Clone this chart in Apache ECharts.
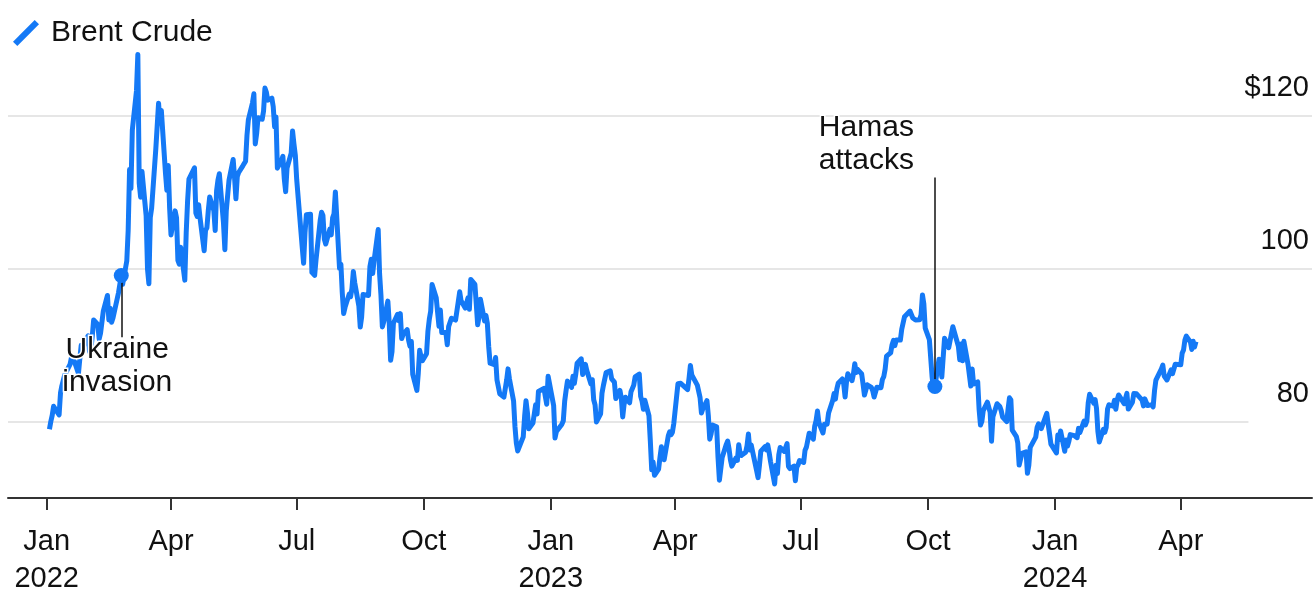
<!DOCTYPE html>
<html>
<head>
<meta charset="utf-8">
<title>Brent Crude</title>
<script src="https://cdn.jsdelivr.net/npm/echarts@6/dist/echarts.min.js"></script>
<style>
  html, body { margin: 0; padding: 0; background: #fff; }
  #chart { width: 1314px; height: 590px; }
</style>
</head>
<body>
<div id="chart"></div>
<script>
// Brent crude, daily close, $/bbl  [MM-DD, price]
const brent2022 = [
  ['01-03',78.98],['01-04',80.00],['01-05',80.80],['01-06',81.99],['01-07',81.75],['01-10',80.87],['01-11',83.72],
  ['01-12',84.67],['01-13',84.47],['01-14',86.06],['01-18',87.51],['01-19',88.44],['01-20',88.38],['01-21',87.89],
  ['01-24',86.27],['01-25',88.20],['01-26',89.96],['01-27',89.34],['01-28',90.03],['01-31',91.21],['02-01',89.16],
  ['02-02',89.47],['02-03',91.11],['02-04',93.27],['02-07',92.69],['02-08',90.78],['02-09',91.55],['02-10',91.41],
  ['02-11',94.44],['02-14',96.48],['02-15',93.28],['02-16',94.81],['02-17',92.97],['02-18',93.54],['02-22',96.84],
  ['02-23',96.84],['02-24',99.08],['02-25',97.93],['02-28',100.99],['03-01',104.97],['03-02',112.93],['03-03',110.46],
  ['03-04',118.11],['03-07',123.21],['03-08',127.98],['03-09',111.14],['03-10',109.33],['03-11',112.67],['03-14',106.90],
  ['03-15',99.91],['03-16',98.02],['03-17',106.64],['03-18',107.93],['03-21',115.62],['03-22',115.48],['03-23',121.60],
  ['03-24',119.03],['03-25',120.65],['03-28',112.48],['03-29',110.23],['03-30',113.45],['03-31',107.91],['04-01',104.39],
  ['04-04',107.53],['04-05',106.64],['04-06',101.07],['04-07',100.58],['04-08',102.78],['04-11',98.48],['04-12',104.64],
  ['04-13',108.78],['04-14',111.70],['04-18',113.16],['04-19',107.25],['04-20',106.80],['04-21',108.33],['04-22',106.65],
  ['04-25',102.32],['04-26',104.99],['04-27',105.32],['04-28',107.59],['04-29',109.34],['05-02',107.58],['05-03',104.97],
  ['05-04',110.14],['05-05',111.55],['05-06',112.39],['05-09',105.94],['05-10',102.46],['05-11',107.51],['05-12',107.45],
  ['05-13',111.55],['05-16',114.24],['05-17',111.93],['05-18',109.11],['05-19',112.04],['05-20',112.55],['05-23',113.42],
  ['05-24',113.56],['05-25',114.03],['05-26',117.40],['05-27',119.43],['05-30',121.67],['05-31',122.84],['06-01',116.29],
  ['06-02',117.61],['06-03',119.72],['06-06',119.51],['06-07',120.57],['06-08',123.58],['06-09',123.07],['06-10',122.01],
  ['06-13',122.27],['06-14',121.17],['06-15',118.51],['06-16',119.81],['06-17',113.12],['06-20',114.13],['06-21',114.65],
  ['06-22',111.74],['06-23',110.05],['06-24',113.12],['06-27',115.09],['06-28',117.98],['06-29',116.26],['06-30',114.81],
  ['07-01',111.63],['07-05',102.77],['07-06',100.69],['07-07',104.65],['07-08',107.02],['07-11',107.10],['07-12',99.49],
  ['07-13',99.57],['07-14',99.10],['07-15',101.16],['07-18',106.27],['07-19',107.35],['07-20',106.92],['07-21',103.86],
  ['07-22',103.20],['07-25',105.15],['07-26',104.40],['07-27',106.62],['07-28',107.14],['07-29',110.01],['08-01',100.03],
  ['08-02',100.54],['08-03',96.78],['08-04',94.12],['08-05',94.92],['08-08',96.65],['08-09',96.31],['08-10',97.40],
  ['08-11',99.60],['08-12',98.15],['08-15',95.10],['08-16',92.34],['08-17',93.65],['08-18',96.59],['08-19',96.72],
  ['08-22',96.48],['08-23',100.22],['08-24',101.22],['08-25',99.34],['08-26',100.99],['08-29',105.09],['08-30',99.31],
  ['08-31',96.49],['09-01',92.36],['09-02',93.02],['09-05',95.74],['09-06',92.83],['09-07',88.00],['09-08',89.15],
  ['09-09',92.84],['09-12',94.00],['09-13',93.17],['09-14',94.10],['09-15',90.84],['09-16',91.35],['09-19',92.00],
  ['09-20',90.62],['09-21',89.83],['09-22',90.46],['09-23',86.15],['09-26',84.06],['09-27',86.27],['09-28',89.32],
  ['09-29',88.49],['09-30',87.96],['10-03',88.86],['10-04',91.80],['10-05',93.37],['10-06',94.42],['10-07',97.92],
  ['10-10',96.19],['10-11',94.29],['10-12',92.45],['10-13',94.57],['10-14',91.63],['10-17',91.62],['10-18',90.03],
  ['10-19',92.41],['10-20',92.38],['10-21',93.50],['10-24',93.26],['10-25',93.52],['10-26',95.69],['10-27',96.96],
  ['10-28',95.77],['10-31',94.83],['11-01',94.65],['11-02',96.16],['11-03',94.67],['11-04',98.57],['11-07',97.92],
  ['11-08',95.36],['11-09',92.65],['11-10',93.67],['11-11',95.99],['11-14',93.14],['11-15',93.86],['11-16',92.86],
  ['11-17',89.78],['11-18',87.62],['11-21',87.45],['11-22',88.36],['11-23',85.41],['11-24',85.34],['11-25',83.63],
  ['11-28',83.19],['11-29',83.03],['11-30',85.43],['12-01',86.88],['12-02',85.57],['12-05',82.68],['12-06',79.35],
  ['12-07',77.17],['12-08',76.15],['12-09',76.10],['12-12',77.99],['12-13',80.68],['12-14',82.70],['12-15',81.21],
  ['12-16',79.04],['12-19',79.80],['12-20',79.99],['12-21',82.20],['12-22',80.98],['12-23',83.92],['12-27',84.33],
  ['12-28',83.26],['12-29',82.26],['12-30',85.91]
];
const brent2023 = [
  ['01-03',82.10],['01-04',77.84],['01-05',78.69],['01-06',78.57],['01-09',79.65],['01-10',80.10],['01-11',82.67],
  ['01-12',84.03],['01-13',85.28],['01-16',84.46],['01-17',85.92],['01-18',84.98],['01-19',86.16],['01-20',87.63],
  ['01-23',88.19],['01-24',86.13],['01-25',86.12],['01-26',87.47],['01-27',86.66],['01-30',84.90],['01-31',85.46],
  ['02-01',82.84],['02-02',82.17],['02-03',79.94],['02-06',80.99],['02-07',83.69],['02-08',84.69],['02-09',84.50],
  ['02-10',86.39],['02-13',86.61],['02-14',85.58],['02-15',85.38],['02-16',85.14],['02-17',83.00],['02-20',84.07],
  ['02-21',83.05],['02-22',80.60],['02-23',82.21],['02-24',83.16],['02-27',82.45],['02-28',83.89],['03-01',84.31],
  ['03-02',84.75],['03-03',85.83],['03-06',86.18],['03-07',83.29],['03-08',82.66],['03-09',81.59],['03-10',82.78],
  ['03-13',80.77],['03-14',77.45],['03-15',73.69],['03-16',74.70],['03-17',72.97],['03-20',73.79],['03-21',75.32],
  ['03-22',76.69],['03-23',75.91],['03-24',74.99],['03-27',78.12],['03-28',78.65],['03-29',78.28],['03-30',78.60],
  ['03-31',79.77],['04-03',84.93],['04-04',84.94],['04-05',84.99],['04-06',85.12],['04-10',84.18],['04-11',85.61],
  ['04-12',87.33],['04-13',86.09],['04-14',86.31],['04-17',84.76],['04-18',84.77],['04-19',83.12],['04-20',81.10],
  ['04-21',81.66],['04-24',82.73],['04-25',80.77],['04-26',77.69],['04-27',78.37],['04-28',79.54],['05-01',79.31],
  ['05-02',75.32],['05-03',72.33],['05-04',72.50],['05-05',75.30],['05-08',77.01],['05-09',77.44],['05-10',76.41],
  ['05-11',74.98],['05-12',74.17],['05-15',75.23],['05-16',74.91],['05-17',76.96],['05-18',75.86],['05-19',75.58],
  ['05-22',75.99],['05-23',76.84],['05-24',78.36],['05-25',76.26],['05-26',76.95],['05-30',73.54],['05-31',72.66],
  ['06-01',74.28],['06-02',76.13],['06-05',76.71],['06-06',76.29],['06-07',76.95],['06-08',75.96],['06-09',74.79],
  ['06-12',71.84],['06-13',74.29],['06-14',73.20],['06-15',75.67],['06-16',76.61],['06-19',76.09],['06-20',75.90],
  ['06-21',77.12],['06-22',74.14],['06-23',73.85],['06-26',74.18],['06-27',72.26],['06-28',74.03],['06-29',74.34],
  ['06-30',74.90],['07-03',74.65],['07-04',76.25],['07-05',76.65],['07-06',76.52],['07-07',78.47],['07-10',77.69],
  ['07-11',79.40],['07-12',80.11],['07-13',81.36],['07-14',79.87],['07-17',78.50],['07-18',79.63],['07-19',79.46],
  ['07-20',79.64],['07-21',81.07],['07-24',82.74],['07-25',83.64],['07-26',82.92],['07-27',84.24],['07-28',84.99],
  ['07-31',85.56],['08-01',84.91],['08-02',83.20],['08-03',85.14],['08-04',86.24],['08-07',85.34],['08-08',86.17],
  ['08-09',87.55],['08-10',86.40],['08-11',86.81],['08-14',86.21],['08-15',84.89],['08-16',83.45],['08-17',84.12],
  ['08-18',84.80],['08-21',84.46],['08-22',84.03],['08-23',83.21],['08-24',83.36],['08-25',84.48],['08-28',84.42],
  ['08-29',85.49],['08-30',85.86],['08-31',86.86],['09-01',88.55],['09-04',88.99],['09-05',90.04],['09-06',90.60],
  ['09-07',89.92],['09-08',90.65],['09-11',90.64],['09-12',92.06],['09-13',91.88],['09-14',93.70],['09-15',93.93],
  ['09-18',94.43],['09-19',94.34],['09-20',93.53],['09-21',93.30],['09-22',93.27],['09-25',93.29],['09-26',93.96],
  ['09-27',96.55],['09-28',95.38],['09-29',92.20],['10-02',90.71],['10-03',90.92],['10-04',85.81],['10-05',84.07],
  ['10-06',84.58],['10-09',88.15],['10-10',87.65],['10-11',85.82],['10-12',86.00],['10-13',90.89],['10-16',89.65],
  ['10-17',89.90],['10-18',91.50],['10-19',92.38],['10-20',92.16],['10-23',89.83],['10-24',88.07],['10-25',90.13],
  ['10-26',87.93],['10-27',90.48],['10-30',87.45],['10-31',87.41],['11-01',84.63],['11-02',86.85],['11-03',84.89],
  ['11-06',85.18],['11-07',81.61],['11-08',79.54],['11-09',80.01],['11-10',81.43],['11-13',82.52],['11-14',82.47],
  ['11-15',81.18],['11-16',77.42],['11-17',80.61],['11-20',82.32],['11-21',82.45],['11-22',81.96],['11-23',81.42],
  ['11-24',80.58],['11-27',79.98],['11-28',81.68],['11-29',83.10],['11-30',82.83],['12-01',78.88],['12-04',78.03],
  ['12-05',77.20],['12-06',74.30],['12-07',74.05],['12-08',75.84],['12-11',76.03],['12-12',73.24],['12-13',74.26],
  ['12-14',76.61],['12-15',76.55],['12-18',77.95],['12-19',79.23],['12-20',79.70],['12-21',79.39],['12-22',79.07],
  ['12-26',81.07],['12-27',79.65],['12-28',78.39],['12-29',77.04]
];
const brent2024 = [
  ['01-02',75.89],['01-03',78.25],['01-04',77.59],['01-05',78.76],['01-08',76.12],['01-09',77.59],['01-10',76.80],
  ['01-11',77.41],['01-12',78.29],['01-15',78.15],['01-16',78.29],['01-17',77.88],['01-18',79.10],['01-19',78.56],
  ['01-22',80.06],['01-23',79.55],['01-24',80.04],['01-25',82.43],['01-26',83.55],['01-29',82.40],['01-30',82.87],
  ['01-31',81.71],['02-01',78.70],['02-02',77.33],['02-05',78.99],['02-06',78.59],['02-07',79.21],['02-08',81.63],
  ['02-09',82.19],['02-12',82.00],['02-13',82.77],['02-14',81.60],['02-15',82.86],['02-16',83.47],['02-20',82.34],
  ['02-21',83.03],['02-22',83.67],['02-23',81.62],['02-26',82.53],['02-27',83.65],['02-28',83.68],['02-29',83.62],
  ['03-01',83.55],['03-04',82.80],['03-05',82.04],['03-06',82.96],['03-07',82.96],['03-08',82.08],['03-11',82.21],
  ['03-12',81.92],['03-13',84.03],['03-14',85.42],['03-15',85.34],['03-18',86.89],['03-19',87.38],['03-20',85.95],
  ['03-21',85.78],['03-22',85.43],['03-25',86.75],['03-26',86.25],['03-27',86.09],['03-28',87.48],['04-01',87.42],
  ['04-02',88.92],['04-03',89.35],['04-04',90.65],['04-05',91.17],['04-08',90.38],['04-09',89.42],['04-10',90.48],
  ['04-11',89.74],['04-12',90.45]
];

const quarterTicks = ['2022-01-01','2022-04-01','2022-07-01','2022-10-01','2023-01-01','2023-04-01',
  '2023-07-01','2023-10-01','2024-01-01','2024-04-01'];
const monthNames = {0: 'Jan', 3: 'Apr', 6: 'Jul', 9: 'Oct'};
const yLabels = {80: '80', 100: '100', 120: '$120'};

const events = [
  {name: 'Ukraine\ninvasion', date: '2022-02-24', price: 99.08, lineTo: 91.0, textAt: 87.2, side: 'below'},
  {name: 'Hamas\nattacks', date: '2023-10-06', price: 84.58, lineTo: 111.9, textAt: 116.2, side: 'left'}
];

const BLUE = '#1479f6';
const GRID = '#e6e6e6';
const FONT = '"Liberation Sans", Arial, sans-serif';

// dates as plain timestamps on a value axis
const toTime = s => {
  const [y, m, d] = s.split('-').map(Number);
  return new Date(y, m - 1, d).getTime();
};

const xMin = toTime('2021-12-04');
const xMax = toTime('2024-07-05');
// the $80 rule stops short of the right edge in the original
const grid80End = toTime('2024-05-20');

const seriesData = []
  .concat(brent2022.map(p => [toTime('2022-' + p[0]), p[1]]))
  .concat(brent2023.map(p => [toTime('2023-' + p[0]), p[1]]))
  .concat(brent2024.map(p => [toTime('2024-' + p[0]), p[1]]));

const tickTimes = quarterTicks.map(toTime);

const markPoints = [];
const markLines = [];
events.forEach(e => {
  const t = toTime(e.date);
  markLines.push([{coord: [t, e.price]}, {coord: [t, e.lineTo]}]);
  markPoints.push({
    coord: [t, e.price], symbol: 'circle', symbolSize: 15,
    itemStyle: {color: BLUE}, label: {show: false}
  });
  markPoints.push({
    coord: [t, e.textAt], symbol: 'circle', symbolSize: 0,
    label: e.side === 'left'
      ? {show: true, formatter: e.name, position: 'left', distance: 21, align: 'right'}
      : {show: true, formatter: e.name, position: 'inside', align: 'center', offset: [-4, 0]}
  });
});

const chart = echarts.init(document.getElementById('chart'));
chart.setOption({
  animation: false,
  backgroundColor: '#fff',
  textStyle: {fontFamily: FONT},
  legend: {
    left: 8,
    top: 13,
    data: ['Brent Crude'],
    icon: 'path://M0,20 L20,0 L24,4 L4,24 Z',
    itemWidth: 26,
    itemHeight: 26,
    selectedMode: false,
    textStyle: {fontSize: 30, color: '#111', fontFamily: FONT, padding: [0, 0, 0, 7]}
  },
  grid: {left: 8, right: 2, top: 39, bottom: 92, outerBoundsMode: 'none'},
  xAxis: {
    type: 'value',
    min: xMin,
    max: xMax,
    axisLine: {show: true, onZero: false, lineStyle: {color: '#333', width: 2}},
    axisTick: {show: true, customValues: tickTimes, length: 12, lineStyle: {color: '#333', width: 2}},
    splitLine: {show: false},
    axisLabel: {
      customValues: tickTimes,
      margin: 25,
      fontSize: 29,
      lineHeight: 37,
      color: '#111',
      fontFamily: FONT,
      formatter: v => {
        const d = new Date(v);
        const m = d.getMonth();
        return m === 0 ? monthNames[m] + '\n' + d.getFullYear() : monthNames[m];
      }
    }
  },
  yAxis: {
    type: 'value',
    position: 'right',
    min: 70,
    max: 130,
    interval: 10,
    axisLine: {show: false},
    axisTick: {show: false},
    // ticks 70..130: only 100 and 120 drawn full width here
    splitLine: {show: true, lineStyle: {color: ['rgba(0,0,0,0)', 'rgba(0,0,0,0)', 'rgba(0,0,0,0)', GRID, 'rgba(0,0,0,0)', GRID], width: 2}},
    axisLabel: {
      inside: true,
      margin: 3,
      fontSize: 29,
      color: '#111',
      fontFamily: FONT,
      verticalAlign: 'bottom',
      lineHeight: 56,
      formatter: v => yLabels[v] || ''
    }
  },
  series: [{
    name: 'grid80',
    type: 'line',
    data: [],
    z: 1,
    markLine: {
      silent: true,
      z: 1,
      symbol: ['none', 'none'],
      label: {show: false},
      lineStyle: {color: GRID, width: 2, type: 'solid'},
      data: [[{coord: [xMin, 80]}, {coord: [grid80End, 80]}]]
    }
  }, {
    name: 'Brent Crude',
    type: 'line',
    data: seriesData,
    showSymbol: false,
    symbol: 'none',
    color: BLUE,
    z: 3,
    lineStyle: {color: BLUE, width: 5, join: 'round'},
    markLine: {
      silent: true,
      symbol: ['none', 'none'],
      label: {show: false},
      lineStyle: {color: '#111', width: 1.5, type: 'solid'},
      data: markLines
    },
    markPoint: {
      silent: true,
      label: {
        fontSize: 30, lineHeight: 33, color: '#111', fontFamily: FONT,
        textBorderColor: '#fff', textBorderWidth: 3
      },
      data: markPoints
    }
  }]
});
</script>
</body>
</html>
